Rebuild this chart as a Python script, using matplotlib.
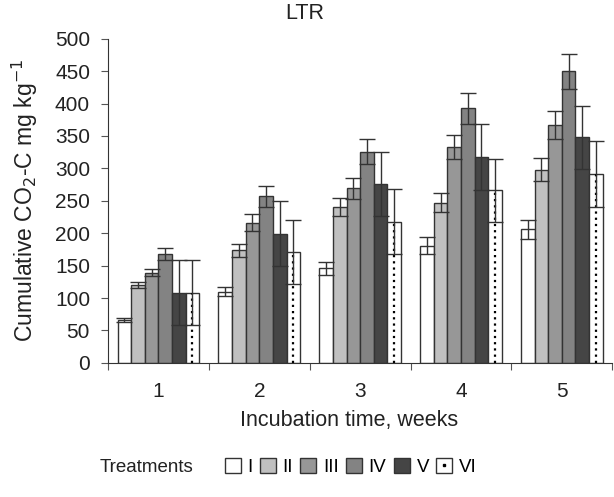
import numpy as np
import matplotlib.pyplot as plt
from matplotlib.patches import Patch
from matplotlib.lines import Line2D

plt.rcParams['font.family'] = ['Liberation Sans', 'DejaVu Sans']

weeks = ['1', '2', '3', '4', '5']
treatments = ['I', 'II', 'III', 'IV', 'V', 'VI']

# cumulative CO2-C (mg/kg), one list per treatment, across weeks 1..5
vals = {
    'I':   [66, 110, 146, 181, 206],
    'II':  [120, 174, 240, 247, 298],
    'III': [139, 216, 269, 333, 367],
    'IV':  [168, 257, 326, 393, 450],
    'V':   [108, 199, 276, 317, 348],
    'VI':  [108, 171, 218, 266, 291],
}
errs = {
    'I':   [3, 7, 10, 13, 15],
    'II':  [5, 10, 14, 15, 18],
    'III': [5, 13, 16, 19, 22],
    'IV':  [9, 16, 19, 24, 27],
    'V':   [50, 50, 50, 51, 49],
    'VI':  [50, 49, 50, 49, 51],
}
colors = {'I': 'white', 'II': '#c0c0c0', 'III': '#979797',
          'IV': '#838383', 'V': '#454545', 'VI': 'white'}

fig = plt.figure(figsize=(6.14, 4.97), dpi=100)
ax = fig.add_axes([0.176, 0.27, 0.821, 0.652])

x = np.arange(len(weeks))
w = 0.135
for i, t in enumerate(treatments):
    pos = x + (i - 2.5) * w
    ax.bar(pos, vals[t], width=w, color=colors[t], edgecolor='#333333',
           linewidth=1, zorder=2)
    if t == 'VI':
        ax.vlines(pos, 0, vals[t], colors='black', linewidth=1.6,
                  linestyles=(0, (1, 1.8)), zorder=3)
    ax.errorbar(pos, vals[t], yerr=errs[t], fmt='none', ecolor='#333333',
                elinewidth=1, capsize=5.5, capthick=1, zorder=4)

ax.set_xlim(-0.5, len(weeks) - 0.5)
ax.set_ylim(0, 500)
ax.set_yticks(np.arange(0, 501, 50))
ax.set_xticks(np.arange(-0.5, len(weeks), 1))
ax.set_xticklabels([])
ax.set_xticks(x, minor=True)
ax.set_xticklabels(weeks, minor=True)
ax.tick_params(axis='x', which='minor', length=0, pad=14, labelsize=15,
               colors='#222222')
ax.tick_params(axis='x', which='major', length=5, color='#555555')
ax.tick_params(axis='y', length=5, labelsize=15, colors='#222222',
               color='#555555', pad=8)
for s in ['top', 'right']:
    ax.spines[s].set_visible(False)
for s in ['left', 'bottom']:
    ax.spines[s].set_color('#333333')

ax.set_ylabel('Cumulative CO$_2$-C mg kg$^{-1}$', fontsize=16.5,
              color='#222222', labelpad=11)
fig.text(0.568, 0.154, 'Incubation time, weeks', ha='center', va='center',
         fontsize=15.5, color='#222222')
fig.text(0.497, 0.973, 'LTR', ha='center', va='center', fontsize=15.5,
         color='#222222')

handles = []
for t in treatments:
    p = Patch(facecolor=colors[t], edgecolor='#333333', linewidth=1)
    if t == 'VI':
        handles.append((p, Line2D([], [], marker='s', markersize=2,
                                  color='black', linestyle='none')))
    else:
        handles.append(p)
fig.text(0.163, 0.06, 'Treatments', ha='left', va='center', fontsize=13.5,
         color='#222222')
fig.legend(handles, treatments, loc='center left', bbox_to_anchor=(0.366, 0.06),
           ncol=6, frameon=False, fontsize=13.5, handlelength=0.85,
           handleheight=0.85, handletextpad=0.35, columnspacing=0.4,
           borderaxespad=0, borderpad=0)

fig.savefig('out.png', dpi=100)
